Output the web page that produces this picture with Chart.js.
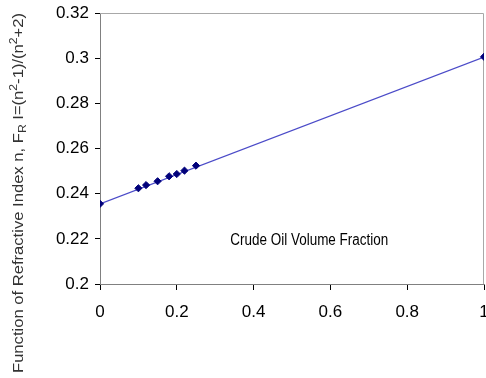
<!DOCTYPE html>
<html>
<head>
<meta charset="utf-8">
<script src="https://cdn.jsdelivr.net/npm/chart.js@4/dist/chart.umd.min.js"></script>
<style>
  html, body { margin: 0; padding: 0; background: #ffffff; }
  #wrap { width: 486px; height: 378px; }
</style>
</head>
<body>
<div id="wrap"><canvas id="c" width="486" height="378"></canvas></div>
<script>
// Measured samples: crude oil volume fraction vs. F_R = (n^2-1)/(n^2+2)
const volumeFraction = [0, 0.10, 0.12, 0.15, 0.18, 0.20, 0.22, 0.25, 1];
const refractiveFunction = [0.2355, 0.2424, 0.2438, 0.2455, 0.2477, 0.2487, 0.2502, 0.2524, 0.3006];

// Linear trend line end points
const trendX = [0, 1];
const trendY = [0.2355, 0.3005];

// Axis ticks
const xTicks = [0, 0.2, 0.4, 0.6, 0.8, 1];
const xTickLabels = ['0', '0.2', '0.4', '0.6', '0.8', '1'];
const yTicks = [0.2, 0.22, 0.24, 0.26, 0.28, 0.3, 0.32];
const yTickLabels = ['0.2', '0.22', '0.24', '0.26', '0.28', '0.3', '0.32'];

// Texts
const yTitleParts = [
  { t: 'Function of Refractive Index n, F', k: 'n' },
  { t: 'R', k: 'sub' },
  { t: ' I=(n', k: 'n' },
  { t: '2', k: 'sup' },
  { t: '-1)/(n', k: 'n' },
  { t: '2', k: 'sup' },
  { t: '+2)', k: 'n' }
];
const noteText = 'Crude Oil Volume Fraction';

const FONT = "'Liberation Sans Narrow', 'Liberation Sans', Arial, sans-serif";

const points = volumeFraction.map((x, i) => ({ x, y: refractiveFunction[i] }));
const trend = trendX.map((x, i) => ({ x, y: trendY[i] }));

// Frame on the top and right sides of the plot area
const framePlugin = {
  id: 'frame',
  beforeDatasetsDraw(chart) {
    const { ctx, chartArea: a } = chart;
    ctx.save();
    ctx.strokeStyle = '#a8a8a8';
    ctx.lineWidth = 1;
    ctx.beginPath();
    ctx.moveTo(a.left, a.top + 0.5);
    ctx.lineTo(a.right - 0.5, a.top + 0.5);
    ctx.lineTo(a.right - 0.5, a.bottom);
    ctx.stroke();
    ctx.restore();
  }
};

// Rotated axis title with sub/superscripts, and the in-plot note
const textPlugin = {
  id: 'texts',
  afterDraw(chart) {
    const { ctx } = chart;
    const size = 15;
    ctx.save();
    ctx.fillStyle = '#333333';
    ctx.textBaseline = 'alphabetic';
    const fontFor = k => (k === 'n' ? size : Math.round(size * 0.7)) + 'px ' + FONT;
    let total = 0;
    yTitleParts.forEach(p => { ctx.font = fontFor(p.k); total += ctx.measureText(p.t).width; });
    const target = 360;
    const sx = target / total;
    ctx.translate(23, 193);
    ctx.rotate(-Math.PI / 2);
    ctx.scale(sx, 1);
    let x = -total / 2;
    yTitleParts.forEach(p => {
      ctx.font = fontFor(p.k);
      const dy = p.k === 'sub' ? 3 : (p.k === 'sup' ? -6 : 0);
      ctx.fillText(p.t, x, dy);
      x += ctx.measureText(p.t).width;
    });
    ctx.restore();

    // note inside plot
    const xs = chart.scales.x, ys = chart.scales.y;
    ctx.save();
    ctx.fillStyle = '#000000';
    ctx.font = '16px ' + FONT;
    ctx.textAlign = 'center';
    ctx.textBaseline = 'middle';
    const w = ctx.measureText(noteText).width;
    const cx = xs.getPixelForValue(0.545);
    const cy = ys.getPixelForValue(0.2193);
    ctx.translate(cx, cy);
    ctx.scale(158 / w, 1);
    ctx.fillText(noteText, 0, 0);
    ctx.restore();
  }
};

new Chart(document.getElementById('c'), {
  type: 'scatter',
  data: {
    datasets: [
      {
        label: 'trend',
        data: trend,
        showLine: true,
        borderColor: '#4b4bc8',
        borderWidth: 1.2,
        pointRadius: 0,
        order: 2
      },
      {
        label: 'F_R',
        data: points,
        showLine: false,
        pointStyle: 'rectRot',
        pointRadius: 3.6,
        backgroundColor: '#00007a',
        borderColor: '#00007a',
        borderWidth: 1,
        order: 1
      }
    ]
  },
  options: {
    responsive: false,
    devicePixelRatio: 1,
    animation: false,
    layout: { autoPadding: false, padding: { top: 13, right: 2, left: 0, bottom: 0 } },
    plugins: {
      legend: { display: false },
      tooltip: { enabled: false }
    },
    scales: {
      x: {
        type: 'linear',
        min: 0,
        max: 1,
        afterBuildTicks(s) { s.ticks = xTicks.map(v => ({ value: v })); },
        afterFit(s) { s.height = 94; s.paddingLeft = 0; s.paddingRight = 0; },
        ticks: {
          callback: (v, i) => xTickLabels[i],
          color: '#000000',
          font: { family: FONT, size: 17 },
          padding: 12,
          maxRotation: 0
        },
        grid: { drawOnChartArea: false, drawTicks: true, tickLength: 6, color: '#000000', lineWidth: 1 },
        border: { display: true, color: '#808080', width: 1 }
      },
      y: {
        type: 'linear',
        min: 0.2,
        max: 0.32,
        afterBuildTicks(s) { s.ticks = yTicks.map(v => ({ value: v })); },
        afterFit(s) { s.width = 100; s.paddingTop = 0; s.paddingBottom = 0; },
        ticks: {
          callback: (v, i) => yTickLabels[i],
          color: '#000000',
          font: { family: FONT, size: 17 },
          padding: 6
        },
        grid: { drawOnChartArea: false, drawTicks: true, tickLength: 5, color: '#000000', lineWidth: 1 },
        border: { display: true, color: '#808080', width: 1 }
      }
    }
  },
  plugins: [framePlugin, textPlugin]
});
</script>
</body>
</html>
